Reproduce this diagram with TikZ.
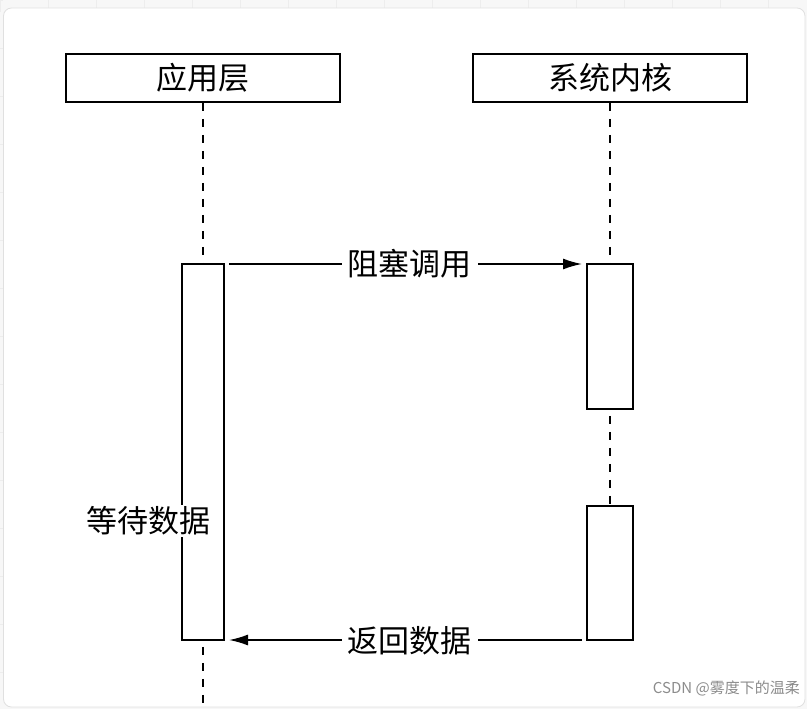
\documentclass[tikz,border=0pt]{standalone}
\usepackage{fontspec}
\newfontfamily\cjk{Noto Sans CJK SC}
\usetikzlibrary{arrows.meta}
\begin{document}
\begin{tikzpicture}[x=1pt,y=-1pt,
  every node/.style={font=\cjk\fontsize{31}{33}\selectfont, inner sep=0pt},
  actor/.style={draw, line width=1.7pt, minimum width=274pt, minimum height=48pt, fill=white},
  act/.style={draw, line width=1.7pt, fill=white},
  life/.style={line width=1.6pt, dash pattern=on 8pt off 8pt},
  msg/.style={line width=1.6pt, -{Latex[length=19pt,width=11pt]}},
  lbl/.style={fill=white, inner xsep=6pt, inner ysep=2pt}]
\useasboundingbox (0,0) rectangle (807,709);
% background
\fill[black!3] (0,0) rectangle (807,709);
\foreach \x in {0,48,...,807} \draw[black!7, line width=0.6pt] (\x,0) -- (\x,12);
\foreach \y in {0,48,...,709} \draw[black!7, line width=0.6pt] (0,\y) -- (3,\y);
\draw[fill=white, draw=black!12, line width=0.8pt, rounded corners=8pt] (3.5,8) rectangle (805,707);
% actors
\node[actor] (app) at (203,78) {应用层};
\node[actor] (ker) at (610,78) {系统内核};
% activations
\node[act, minimum width=42pt, minimum height=376pt] (a1) at (203,452) {};
\node[act, minimum width=46pt, minimum height=145pt] (k1) at (610,336.5) {};
\node[act, minimum width=46pt, minimum height=134pt] (k2) at (610,573) {};
\coordinate (aend) at (203,709);
% lifelines
\draw[life] (app.south) -- (a1.north);
\draw[life] (a1.south) ++(0,6) -- (aend);
\draw[life] (ker.south) -- (k1.north);
\draw[life] (k1.south) ++(0,6) -- (k2.north);
% messages
\coordinate (m1s) at (229,264);
\coordinate (m1e) at (582,264);
\coordinate (m2s) at (582,640);
\coordinate (m2e) at (229,640);
\draw[msg] (m1s) -- (m1e) node[lbl, pos=0.5, xshift=4pt] (l1) {阻塞调用};
\draw[msg] (m2s) -- (m2e) node[lbl, pos=0.5, xshift=4pt, yshift=-1pt] (l2) {返回数据};
\node[lbl, inner xsep=2pt] (wait) at (148,521) {等待数据};
% watermark
\node[font=\cjk\fontsize{15}{16}\selectfont, text=black!45, anchor=east] (wm) at (800,688) {CSDN @雾度下的温柔};
\end{tikzpicture}
\end{document}
